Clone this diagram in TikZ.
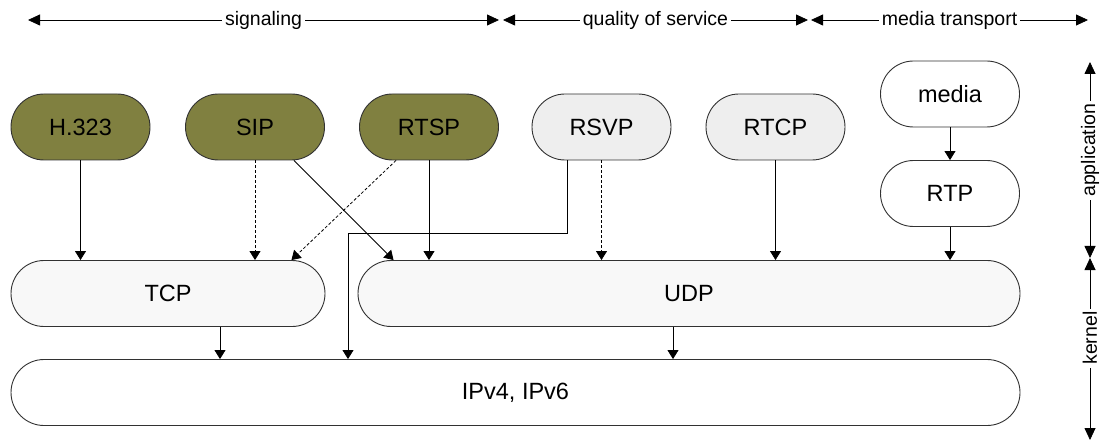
\documentclass[tikz,border=0pt]{standalone}
\usepackage{fontspec}
\setmainfont{Liberation Sans}
\usetikzlibrary{arrows.meta,calc}
\definecolor{olivefill}{RGB}{128,128,64}
\definecolor{qosfill}{RGB}{238,238,238}
\definecolor{transfill}{RGB}{248,248,248}
\definecolor{edge}{RGB}{50,50,50}
\tikzset{
  proto/.style={draw=edge, line width=0.9pt, rectangle, rounded corners=33pt,
    minimum width=139pt, minimum height=66pt, inner sep=0pt,
    font=\fontsize{23.5}{28}\selectfont},
  sig/.style={proto, fill=olivefill},
  qos/.style={proto, fill=qosfill},
  plain/.style={proto, fill=white},
  transport/.style={proto, fill=transfill},
  link/.style={draw=black, line width=0.8pt, -{Triangle[length=9pt,width=11pt]}},
  weak/.style={link, dash pattern=on 3pt off 2pt},
  span/.style={draw=black, line width=0.8pt,
    {Triangle[length=12pt,width=11pt]}-{Triangle[length=12pt,width=11pt]}},
  spanlabel/.style={fill=white, inner xsep=3pt, inner ysep=1pt,
    font=\fontsize{19.5}{23}\selectfont},
}
\begin{document}
\begin{tikzpicture}[x=1pt, y=-1pt]
\useasboundingbox (0,0) rectangle (1102,446);

% protocol boxes
\node[sig] (h323) at (80.5,127) {H.323};
\node[sig] (sip)  at (255,127) {SIP};
\node[sig] (rtsp) at (429,127) {RTSP};
\node[qos] (rsvp) at (601.5,127) {RSVP};
\node[qos] (rtcp) at (775.5,127) {RTCP};
\node[plain] (media) at (950,94) {media};
\node[plain] (rtp)   at (950,193.5) {RTP};
\node[transport, minimum width=314pt] (tcp) at (168,293.5) {TCP};
\node[transport, minimum width=662pt] (udp) at (689,293.5) {UDP};
\node[plain, minimum width=1009pt] (ip) at (515.5,392.5) {IPv4, IPv6};

% application layer to transport layer
\draw[link] (h323.south) -- (h323.south |- tcp.north);
\draw[weak] (sip.south) -- (sip.south |- tcp.north);
\draw[link] ([xshift=39pt]sip.south) -- ([xshift=36pt]udp.north west);
\draw[weak] ([xshift=-33pt]rtsp.south) -- ([xshift=-34pt]tcp.north east);
\draw[link] (rtsp.south) -- (rtsp.south |- udp.north);
\draw[weak] (rsvp.south) -- (rsvp.south |- udp.north);
\draw[link] (rtcp.south) -- (rtcp.south |- udp.north);
\draw[link] (media.south) -- (rtp.north);
\draw[link] (rtp.south) -- (rtp.south |- udp.north);

% RSVP goes straight to the network layer
\coordinate (rsvpbend) at (348,233);
\draw[link] ([xshift=-34.5pt]rsvp.south) |- (rsvpbend) -- (rsvpbend |- ip.north);

% transport layer to network layer
\draw[link] ([xshift=52pt]tcp.south) -- ([xshift=52pt]tcp.south |- ip.north);
\draw[link] ([xshift=-16pt]udp.south) -- ([xshift=-16pt]udp.south |- ip.north);

% horizontal spans
\coordinate (sigL) at (28,20);
\coordinate (sigR) at (499,20);
\coordinate (qosL) at (503,20);
\coordinate (qosR) at (808,20);
\coordinate (medL) at (811,20);
\coordinate (medR) at (1088,20);
\draw[span] (sigL) -- node[spanlabel] {signaling} (sigR);
\draw[span] (qosL) -- node[spanlabel] {quality of service} (qosR);
\draw[span] (medL) -- node[spanlabel] {media transport} (medR);

% vertical spans
\coordinate (appT) at (1090,62);
\coordinate (mid)  at (1090,258);
\coordinate (kerB) at (1090,440);
\draw[span] (appT) -- node[spanlabel, rotate=90, pos=0.45] {application} (mid);
\draw[span] (mid) -- node[spanlabel, rotate=90, pos=0.44] {kernel} (kerB);
\end{tikzpicture}
\end{document}
